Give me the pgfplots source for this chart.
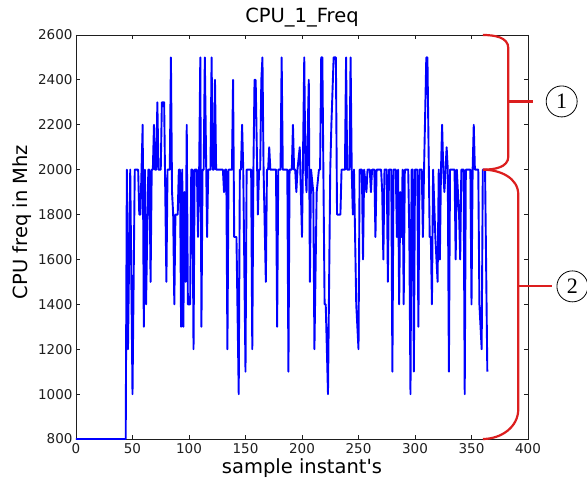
\documentclass[border=0pt]{standalone}
\usepackage{fontspec}
\setmainfont{DejaVu Sans}
\newfontfamily\circfont{Liberation Serif}
\usepackage{pgfplots}
\pgfplotsset{compat=1.18}
\definecolor{clrLine}{RGB}{0,0,255}
\definecolor{clrBrace}{RGB}{220,30,30}
\definecolor{clrAxis}{RGB}{30,30,30}

\pgfplotstableread{
x y
0 800
44 800
45 2000
46 1200
48 2000
50 1000
52 2000
55 2000
56 1800
57 1800
58 2000
59 2200
60 1300
61 2000
62 1400
63 1700
64 2000
65 2000
66 1500
67 2000
68 2000
69 2200
70 2000
71 2000
72 2300
73 2000
75 2000
76 2300
78 2300
80 1500
81 2000
83 2000
84 2500
85 1900
86 1800
87 1400
88 1800
90 1800
91 2000
92 2000
93 1300
94 2000
95 1300
96 1900
97 1500
98 2200
99 1400
101 1400
102 2000
103 2000
104 1200
105 2000
107 2000
108 1700
109 2000
110 2500
111 1300
112 2000
113 2000
114 2500
116 1700
117 2000
119 2000
120 2500
121 2000
122 2000
123 2400
124 2000
130 2000
131 1900
132 2000
133 2000
134 1200
135 2000
138 2000
139 2400
140 1700
142 1700
144 1000
145 2000
146 2000
147 2200
148 2000
150 1100
151 2000
155 2000
156 1200
157 2000
158 2400
159 2400
161 1800
162 2000
163 2000
164 2400
165 2500
166 2000
168 1500
169 2000
170 2000
171 2100
172 2000
177 2000
178 1300
179 2000
181 2000
182 2500
183 2000
187 2000
188 1100
189 2000
191 2000
192 2200
193 2000
194 2000
195 1900
196 2000
198 2100
200 1700
202 2500
203 2000
204 1900
206 2400
207 1500
208 2000
210 1900
211 1200
213 1900
215 2000
216 2000
217 2500
218 2500
220 1400
221 1400
223 1000
225 2000
226 2200
228 2500
230 2500
231 1800
234 1800
235 2000
238 2000
239 2500
240 2000
242 2000
243 2500
244 2000
245 1800
246 2000
248 1400
250 1200
251 2000
253 2000
254 1600
255 2000
257 1900
258 2000
260 2000
261 1900
262 2000
264 2000
265 1700
266 2000
270 2000
271 1900
272 1600
273 2000
275 2000
276 1500
277 2000
279 2000
280 1100
281 2000
283 2000
284 1700
285 2000
286 1400
287 1900
288 1700
289 2000
290 1400
291 2000
294 2000
295 1700
296 1000
297 2000
298 2000
299 1100
300 2000
302 2000
303 1300
304 2000
306 2000
307 1700
308 2000
310 2500
311 2500
313 1700
314 1700
315 1400
316 2000
318 1700
320 1500
321 2000
322 1600
323 2000
324 2200
325 2000
326 1900
328 2100
329 2000
330 1100
331 2000
335 2000
336 1600
337 2000
339 1800
340 1600
341 2000
343 2000
344 1000
345 2000
349 2000
350 1400
351 2000
352 2200
353 2000
356 2000
357 1400
358 1300
359 1200
360 2000
362 2000
364 1100
}\freqdata

\begin{document}
\begin{tikzpicture}
\useasboundingbox (-76bp,-54bp) rectangle (511bp,439bp);
\begin{axis}[
  scale only axis,
  width=452bp, height=404bp,
  xmin=0, xmax=400, ymin=800, ymax=2600,
  xtick={0,50,...,400},
  ytick={800,1000,...,2600},
  clip=false,
  axis line style={clrAxis,line width=0.8bp},
  tick style={clrAxis,line width=0.8bp},
  major tick length=4bp,
  tick align=inside,
  xtick pos=both, ytick pos=both,
  /pgf/number format/assume math mode=true,
  /pgf/number format/1000 sep={},
  ticklabel style={font=\fontsize{13.5bp}{16bp}\selectfont, color=clrAxis},
  xticklabel style={yshift=-1bp},
  title={CPU\_1\_Freq},
  title style={font=\fontsize{19.5bp}{22bp}\selectfont, at={(0.5,1.0173)}, anchor=base, inner sep=0pt},
  xlabel={sample instant\textquotesingle s},
  xlabel style={font=\fontsize{19.5bp}{22bp}\selectfont, at={(0.5,-0.0866)}, anchor=base, inner sep=0pt},
  ylabel={CPU freq in Mhz},
  ylabel style={font=\fontsize{19.5bp}{22bp}\selectfont, at={(-0.1084,0.537)}, anchor=base, inner sep=0pt},
]
\addplot[clrLine, line width=1.9bp, line join=round, mark=none] table[x=x,y=y] {\freqdata};

% braces marking the two frequency bands
\draw[clrBrace, line width=2.2bp]
  (axis cs:360,2600) to[out=0,in=90] (axis cs:382.6,2541)
  -- (axis cs:382.6,2059) to[out=-90,in=0] (axis cs:360,2000);
\draw[clrBrace, line width=2.2bp] (axis cs:382.6,2304) -- (axis cs:404.7,2304);
\draw[clrBrace, line width=2.2bp]
  (axis cs:360,2000) to[out=0,in=90] (axis cs:391.4,1889)
  -- (axis cs:391.4,933) to[out=-90,in=0] (axis cs:360,800);
\draw[clrBrace, line width=2.2bp] (axis cs:391.4,1480) -- (axis cs:421,1480);

\node[draw=black, line width=0.8bp, circle, minimum size=31bp, inner sep=0pt,
  font=\circfont\fontsize{22bp}{24bp}\selectfont] at (axis cs:429.8,2304) {1};
\node[draw=black, line width=0.8bp, circle, minimum size=31bp, inner sep=0pt,
  font=\circfont\fontsize{22bp}{24bp}\selectfont] at (axis cs:439.3,1480) {2};
\end{axis}
\end{tikzpicture}
\end{document}
